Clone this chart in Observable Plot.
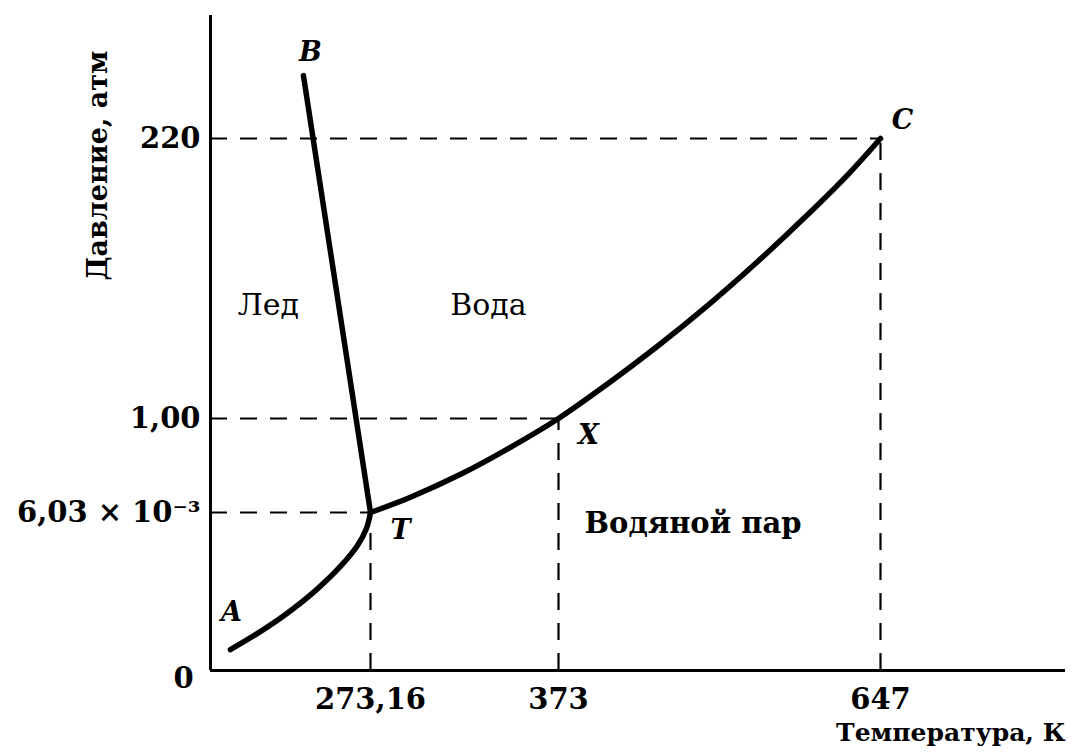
<!DOCTYPE html>
<html><head><meta charset="utf-8">
<script src="https://cdn.jsdelivr.net/npm/d3@7"></script>
<script src="https://cdn.jsdelivr.net/npm/@observablehq/plot@0.6"></script>
<style>body{margin:0;background:#fff} svg{display:block}</style>
</head><body><div id="chart"></div>
<script>
// Tick values and labels (schematic axes)
const xTicks = [273.16, 373, 647];
const xTickLabels = ["273,16", "373", "647"];
const yTicks = [6.03e-3, 1, 220];
const yTickLabels = ["6,03 × 10⁻³", "1,00", "220"];

// Sublimation curve T → A (K, atm)
const sublT = [273.16, 271.3, 267.2, 259.4, 248.0, 234.3, 220.6, 209.1];
const sublP = [0.00603, 0.00542, 0.00477, 0.00397, 0.00305, 0.00214, 0.00137, 0.0008];

// Melting curve T → B
const fusT = [273.16, 242.5];
const fusP = [0.00603, 312];

// Vaporisation curve T → X → C
const vapT = [273.16, 294.4, 321.0, 347.5, 373, 414.7, 457.2, 499.8, 542.3, 584.9, 618.9, 647];
const vapP = [0.00603, 0.1678, 0.410, 0.6955, 1, 28.0, 57.5, 89.3, 123.6, 160.3, 191.4, 220];

// Named points
const pointNames = ["A", "B", "C", "T", "X"];
const pointT = [209.1, 242.5, 647, 273.16, 373];
const pointP = [0.0008, 312, 220, 0.00603, 1];

// Region labels
const regionNames = ["Лед", "Вода", "Водяной пар"];
const regionT = [226.5, 335.8, 487.5];
const regionP = [89.4, 89.4, 0.0056];

const xTitle = "Температура, К";
const yTitle = "Давление, атм";

// Build tables
const subl = sublT.map((t, i) => ({t, p: sublP[i]}));
const fus = fusT.map((t, i) => ({t, p: fusP[i]}));
const vap = vapT.map((t, i) => ({t, p: vapP[i]}));
const points = pointNames.map((name, i) => ({name, t: pointT[i], p: pointP[i]}));
const regions = regionNames.map((name, i) => ({name, t: regionT[i], p: regionP[i]}));
const guides = xTicks.map((t, i) => ({t, p: yTicks[i]}));

const FONT = "DejaVu Serif";
const dash = {stroke: "black", strokeWidth: 2.2, strokeDasharray: "17,13"};
const curveStyle = {x: "t", y: "p", stroke: "black", strokeWidth: 5.5, strokeLinecap: "round", strokeLinejoin: "round"};
const letter = (name, dx, dy) => Plot.text(points, {filter: d => d.name === name, x: "t", y: "p", text: "name", dx, dy, fontSize: 27, fontWeight: "bold", fontStyle: "italic", fill: "black"});

const chart = Plot.plot({
  width: 1072,
  height: 753,
  marginLeft: 210,
  marginRight: 7,
  marginTop: 15,
  marginBottom: 83,
  style: {fontFamily: FONT, background: "white", color: "black"},
  x: {type: "linear", domain: [200, 273.16, 373, 647, 800], range: [210, 370, 558, 880, 1065]},
  y: {type: "linear", domain: [0, 6.03e-3, 1, 220, 400], range: [670, 512, 418, 138, 15]},
  marks: [
    // dashed guide lines
    Plot.ruleY(guides, {y: "p", x1: 200, x2: "t", ...dash}),
    Plot.ruleX(guides, {x: "t", y1: 0, y2: "p", ...dash}),
    // axes lines
    Plot.ruleX([200], {stroke: "black", strokeWidth: 3}),
    Plot.ruleY([0], {stroke: "black", strokeWidth: 3}),
    // phase curves
    Plot.line(subl, {...curveStyle, curve: "catmull-rom"}),
    Plot.line(fus, {...curveStyle}),
    Plot.line(vap, {...curveStyle, curve: "catmull-rom"}),
    // tick labels
    Plot.axisX({ticks: xTicks, tickFormat: d => xTickLabels[xTicks.indexOf(d)], tickSize: 0, tickPadding: 18, fontSize: 29, fontWeight: "bold", label: null}),
    Plot.axisY({ticks: yTicks, tickFormat: d => yTickLabels[yTicks.indexOf(d)], tickSize: 0, tickPadding: 10, fontSize: 29, fontWeight: "bold", label: null}),
    // origin label
    Plot.text(["0"], {x: 200, y: 0, dx: -27, dy: 8, fontSize: 29, fontWeight: "bold", fill: "black"}),
    // point letters
    letter("A", 1, -37),
    letter("B", 7, -23),
    letter("C", 22, -18),
    letter("X", 30, 17),
    letter("T", 30, 18),
    // region names
    Plot.text(regions, {filter: d => d.name !== "Водяной пар", x: "t", y: "p", text: "name", fontSize: 30, fill: "black"}),
    Plot.text(regions, {filter: d => d.name === "Водяной пар", x: "t", y: "p", text: "name", fontSize: 29, fontWeight: "bold", fill: "black"}),
    // axis titles
    Plot.text([xTitle], {frameAnchor: "bottom-right", textAnchor: "end", dy: 70, fontSize: 25, fontWeight: "bold", fill: "black"}),
    Plot.text([yTitle], {frameAnchor: "top-left", rotate: -90, dx: -123, dy: 150, textAnchor: "middle", fontSize: 27, fontWeight: "bold", fill: "black"})
  ]
});
document.getElementById("chart").append(chart);
</script>
</body></html>
